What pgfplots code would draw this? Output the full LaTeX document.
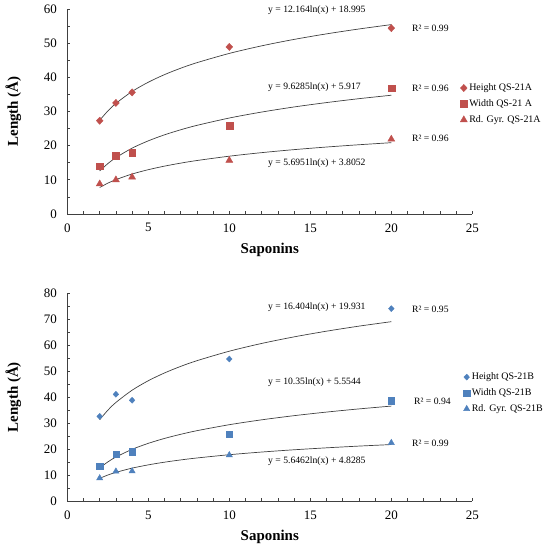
\documentclass[border=0pt]{standalone}
\usepackage{pgfplots}
\pgfplotsset{compat=1.18}
\usepackage{fontspec}
\setmainfont{Liberation Serif}
\definecolor{cred}{HTML}{C0504D}
\definecolor{cblue}{HTML}{4F81BD}
\definecolor{trendc}{HTML}{404040}
\tikzset{eq/.style={anchor=west, inner sep=0pt, font=\fontsize{9.7}{11}\selectfont}}
\begin{document}
\begin{tikzpicture}
\useasboundingbox (0,0) rectangle (547bp,550bp);
\pgfplotsset{
 myax/.style={
  scale only axis, width=405bp, axis lines*=left,
  xmin=0, xmax=25, xtick={0,5,...,25}, minor x tick num=4, minor y tick num=1,
  tick align=inside, major tick length=3bp, minor tick length=2.5bp,
  ticklabel style={font=\fontsize{13}{15}\selectfont},
  xticklabel style={yshift=-6bp},
  yticklabel style={xshift=-7bp},
  /pgf/number format/assume math mode=true,
  xlabel={Saponins}, ylabel={Length (Å)},
  every axis y label/.style={at={(axis description cs:-0.133,0.5)}, rotate=90, anchor=center, font=\fontsize{15}{17}\selectfont\bfseries},
  axis line style={black!75, line width=0.8pt},
  tick style={black!75, line width=0.7pt},
  legend style={draw=none, fill=none, font=\fontsize{10}{12}\selectfont, anchor=west, inner sep=0pt, row sep=3.5bp, legend cell align=left},
  legend image code/.code={\draw[##1] plot coordinates {(0.1cm,0cm)};},
  clip=false,
 },
 trend/.style={forget plot, no marks, trendc, line width=0.7pt, smooth},
}
% ---------------- top axis ----------------
\begin{axis}[myax, at={(67.3bp,336bp)}, anchor=south west, height=205bp,
  ymin=0, ymax=60, ytick={0,10,...,60},
  every axis x label/.style={at={(axis description cs:0.5,-0.176)}, anchor=center, font=\fontsize{15}{17}\selectfont\bfseries},
  legend style={at={(0.97,0.537)}}]
\addplot[trend] coordinates {(2,27.43)(2.5,30.14)(3,32.36)(4,35.86)(5,38.57)(6,40.79)(7,42.67)(8,44.29)(10,47.00)(12,49.22)(14,51.10)(16,52.72)(18,54.15)(20,55.43)};
\addplot[trend] coordinates {(2,12.59)(2.5,14.74)(3,16.50)(4,19.27)(5,21.41)(6,23.17)(7,24.65)(8,25.94)(10,28.09)(12,29.84)(14,31.33)(16,32.61)(18,33.75)(20,34.76)};
\addplot[trend] coordinates {(2,7.75)(2.5,9.02)(3,10.06)(4,11.70)(5,12.97)(6,14.01)(7,14.89)(8,15.65)(10,16.92)(12,17.96)(14,18.84)(16,19.60)(18,20.27)(20,20.87)};
\addplot[only marks, mark=diamond*, mark size=3.6bp, mark options={xscale=1.25}, draw=cred, fill=cred] coordinates {(2,27.3)(3,32.5)(4,35.6)(10,48.9)(20,54.4)};
\addlegendentry{Height QS-21A}
\addplot[only marks, mark=square*, mark size=3.4bp, draw=cred, fill=cred] coordinates {(2,14.0)(3,17.0)(4,17.9)(10,25.8)(20,36.8)};
\addlegendentry{Width QS-21 A}
\addplot[only marks, mark=triangle*, mark size=4bp, draw=cred, fill=cred] coordinates {(2,8.8)(3,10.0)(4,10.8)(10,15.7)(20,21.9)};
\addlegendentry{Rd. Gyr. QS-21A}
\node[eq] at (axis cs:12.39,59.7) {y = 12.164ln(x) + 18.995};
\node[eq] at (axis cs:12.39,37.2) {y = 9.6285ln(x) + 5.917};
\node[eq] at (axis cs:12.39,14.9) {y = 5.6951ln(x) + 3.8052};
\node[eq] at (axis cs:21.27,54.4) {R² = 0.99};
\node[eq] at (axis cs:21.27,36.9) {R² = 0.96};
\node[eq] at (axis cs:21.27,22.2) {R² = 0.96};
\end{axis}
% ---------------- bottom axis ----------------
\begin{axis}[myax, at={(67.3bp,49bp)}, anchor=south west, height=207.7bp,
  ymin=0, ymax=80, ytick={0,10,...,80},
  every axis x label/.style={at={(axis description cs:0.5,-0.173)}, anchor=center, font=\fontsize{15}{17}\selectfont\bfseries},
  legend style={at={(0.978,0.52)}}]
\addplot[trend] coordinates {(2,31.30)(2.5,34.96)(3,37.95)(4,42.67)(5,46.33)(6,49.32)(7,51.85)(8,54.04)(10,57.70)(12,60.69)(14,63.22)(16,65.41)(18,67.35)(20,69.07)};
\addplot[trend] coordinates {(2,12.73)(2.5,15.04)(3,16.93)(4,19.90)(5,22.21)(6,24.10)(7,25.69)(8,27.08)(10,29.39)(12,31.27)(14,32.87)(16,34.25)(18,35.47)(20,36.56)};
\addplot[trend] coordinates {(2,8.74)(2.5,10.00)(3,11.03)(4,12.66)(5,13.92)(6,14.95)(7,15.82)(8,16.57)(10,17.83)(12,18.86)(14,19.73)(16,20.48)(18,21.15)(20,21.74)};
\addplot[only marks, mark=diamond*, mark size=3bp, mark options={xscale=1.25}, draw=cblue, fill=cblue] coordinates {(2,32.6)(3,41.1)(4,38.8)(10,54.7)(20,74.1)};
\addlegendentry{Height QS-21B}
\addplot[only marks, mark=square*, mark size=3.1bp, draw=cblue, fill=cblue] coordinates {(2,13.4)(3,18.1)(4,19.0)(10,25.8)(20,38.6)};
\addlegendentry{Width QS-21B}
\addplot[only marks, mark=triangle*, mark size=3.6bp, draw=cblue, fill=cblue] coordinates {(2,8.8)(3,11.4)(4,11.5)(10,17.7)(20,22.4)};
\addlegendentry{Rd. Gyr. QS-21B}
\node[eq] at (axis cs:12.39,74.8) {y = 16.404ln(x) + 19.931};
\node[eq] at (axis cs:12.39,45.8) {y = 10.35ln(x) + 5.5544};
\node[eq] at (axis cs:12.39,15.4) {y = 5.6462ln(x) + 4.8285};
\node[eq] at (axis cs:21.27,74.0) {R² = 0.95};
\node[eq] at (axis cs:21.4,38.5) {R² = 0.94};
\node[eq] at (axis cs:21.27,22.3) {R² = 0.99};
\end{axis}
\end{tikzpicture}
\end{document}
